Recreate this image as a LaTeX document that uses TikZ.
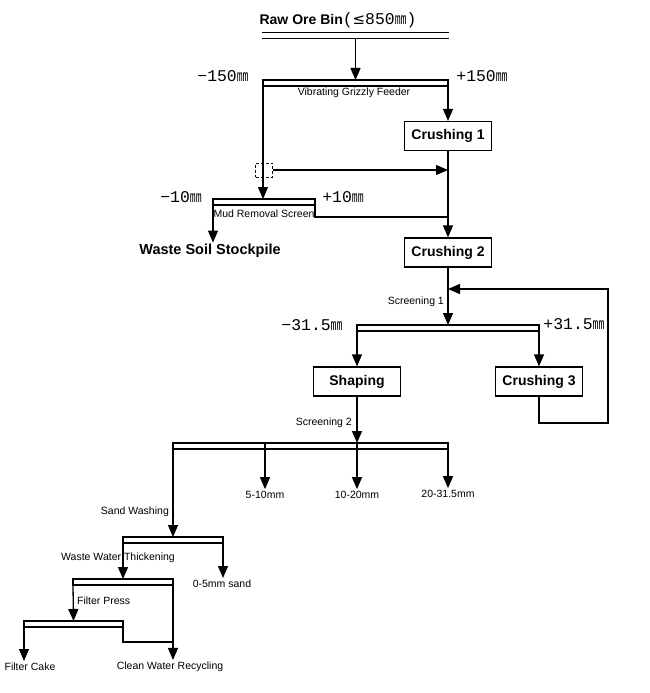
\documentclass[tikz,border=0pt]{standalone}
\usepackage{fontspec}
\setmainfont{Liberation Sans}
\newfontfamily\djv{DejaVu Sans}
\newfontfamily\dimfont{Liberation Mono}
\usepackage{graphicx}
\usetikzlibrary{arrows.meta}
\newcommand\mmu{\scalebox{0.6}[1]{mm}}
\begin{document}
\begin{tikzpicture}[x=1pt,y=-1pt,line width=1.3pt,
  >={Triangle[length=12pt,width=10pt]},
  proc/.style={draw,line width=1.2pt,minimum width=87pt,minimum height=29pt,inner sep=0pt,
    font=\fontsize{14}{14}\selectfont\bfseries},
  screen/.style={draw,line width=1.3pt,minimum height=6pt,inner sep=0pt,outer sep=0pt},
  lbl/.style={font=\fontsize{10.5}{10.5}\selectfont,inner sep=1.5pt},
  dimlbl/.style={font=\dimfont\fontsize{16.4}{16.4}\selectfont,inner sep=0pt},
  big/.style={font=\fontsize{14}{14}\selectfont\bfseries,inner sep=1pt}]
\useasboundingbox[fill=white] (0,0) rectangle (650,693);

% raw ore bin
\node[big] (rawt) at (338,20) {Raw Ore Bin{\mdseries\dimfont\fontsize{16.4}{16.4}\selectfont(\djv\fontsize{15}{15}\selectfont≤\dimfont\fontsize{16.4}{16.4}\selectfont 850\mmu)}};
\node[inner sep=0pt,minimum width=185pt,minimum height=5pt] (bin) at (355.5,35.5) {};
\draw (bin.north west) -- (bin.north east);
\draw (bin.south west) -- (bin.south east);

% grizzly
\node[screen,minimum width=185pt] (g) at (355.5,83) {};
\node[lbl] (gl) at (354,93) {Vibrating Grizzly Feeder};
\node[dimlbl] (gm) at (223,76) {−150\mmu};
\node[dimlbl] (gp) at (482,76) {+150\mmu};
\draw[->] (bin.south) -- (g.north);

% crushing
\node[proc] (c1) at (448,136) {Crushing 1};
\node[proc] (c2) at (448,252.5) {Crushing 2};
\draw[->] (g.south east) -- (c1.north);
\draw[->] (c1.south) -- (c2.north);

% mud removal screen
\node[screen,minimum width=102pt] (m) at (264,202) {};
\node[lbl] (ml) at (264,214) {Mud Removal Screen};
\node[dimlbl] (mm) at (181,197) {−10\mmu};
\node[dimlbl] (mp) at (343,197) {+10\mmu};
\draw[->] (g.south west) -- (g.south west |- m.north);
\node[draw,dashed,dash pattern=on 3pt off 2pt,line width=1pt,minimum width=17pt,minimum height=14pt,inner sep=0pt] (ds) at (264,170) {};
\draw[->] (ds.east) -- (c1.south |- ds.east);
\coordinate (j1) at (448,217);
\draw (m.south east) |- (j1);
\node[big,font=\fontsize{14.5}{14.5}\selectfont\bfseries] (ws) at (210,251) {Waste Soil Stockpile};
\draw[->] (m.south west) -- (m.south west |- ws.north);

% screening 1
\node[screen,minimum width=182pt] (s1) at (448,328) {};
\node[lbl,anchor=east] (s1l) at (446,302) {Screening 1};
\node[dimlbl] (s1m) at (312,325) {−31.5\mmu};
\node[dimlbl] (s1p) at (574,324) {+31.5\mmu};
\draw[->] (c2.south) -- (s1.north);
\node[proc] (sh) at (357,381.5) {Shaping};
\node[proc] (c3) at (539,381.5) {Crushing 3};
\draw[->] (s1.south west) -- (sh.north);
\draw[->] (s1.south east) -- (c3.north);
\coordinate (fbA) at (608,423);
\coordinate (fbB) at (608,289);
\draw[->] (c3.south) |- (fbA) -- (fbB) -- (c2.south |- fbB);

% screening 2
\node[screen,minimum width=275pt] (s2) at (310.5,446) {};
\node[lbl,anchor=east] (s2l) at (354,423) {Screening 2};
\draw[->] (sh.south) -- (sh.south |- s2.north);
\node[lbl] (p1) at (265,495) {5-10mm};
\node[lbl] (p2) at (357,495) {10-20mm};
\node[lbl] (p3) at (448,494) {20-31.5mm};
\draw[->] (p1 |- s2.north) -- (p1.north);
\draw[->] (p2 |- s2.north) -- (p2.north);
\draw[->] (s2.south east) -- (p3.north);

% sand washing
\node[screen,minimum width=100pt] (sw) at (173,540) {};
\node[lbl,anchor=east] (swl) at (171,512) {Sand Washing};
\draw[->] (s2.south west) -- (sw.north);
\node[lbl] (sand) at (222,584) {0-5mm sand};
\draw[->] (sw.south east) -- (sw.south east |- sand.north);

% waste water thickening
\node[screen,minimum width=100pt] (wt) at (123,582) {};
\node[lbl] (wtl) at (118,558) {Waste Water Thickening};
\draw[->] (sw.south west) -- (wt.north);
\node[lbl] (cw) at (170,667) {Clean Water Recycling};
\draw[->] (wt.south east) -- (wt.south east |- cw.north);

% filter press
\node[screen,minimum width=99pt] (fp) at (73.5,624) {};
\node[lbl,anchor=west] (fpl) at (75,601) {Filter Press};
\draw[->] (wt.south west) -- (fp.north);
\coordinate (j2) at (173,642);
\draw (fp.south east) |- (j2);
\node[lbl] (fc) at (30,667) {Filter Cake};
\draw[->] (fp.south west) -- (fp.south west |- fc.north);
\end{tikzpicture}
\end{document}
